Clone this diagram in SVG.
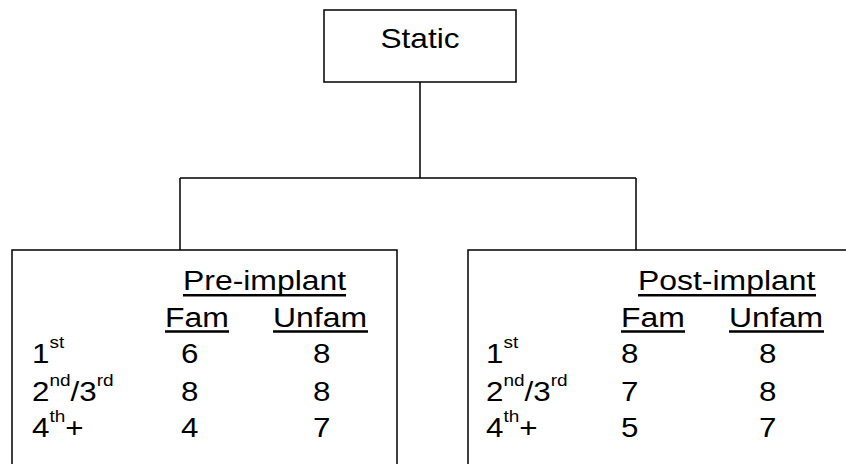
<svg xmlns="http://www.w3.org/2000/svg" width="846" height="464" viewBox="0 0 846 464">
<style>
.box{fill:#fff;stroke:#000;stroke-width:1.5}
.con{fill:none;stroke:#000;stroke-width:1.5}
.ul{fill:none;stroke:#000;stroke-width:2.6}
text{font-family:"Liberation Sans",Arial,sans-serif;font-size:28px;fill:#000}
.sup{font-size:17px}
</style>
<rect width="846" height="464" fill="#fff"/>
<g id="connectors">
<path class="con" d="M420 82V178M180 178H636M180 178V250M636 178V250"/>
</g>
<g id="static">
<rect class="box" x="324" y="10" width="192" height="72"/>
<text transform="translate(420,48) scale(1.13,1)" text-anchor="middle">Static</text>
</g>
<g id="pre-implant">
<rect class="box" x="12" y="250" width="385" height="230"/>
<text transform="translate(183,290) scale(1.14,1)">Pre-implant</text>
<text transform="translate(165,326.5) scale(1.14,1)">Fam</text>
<text transform="translate(273,326.5) scale(1.14,1)">Unfam</text>
<path class="ul" d="M183 295.2H346M165 331.5H229M273 331.5H368"/>
<text transform="translate(32,363) scale(1.12,1)">1<tspan class="sup" dy="-15">st</tspan></text>
<text transform="translate(32,400.5) scale(1.12,1)">2<tspan class="sup" dy="-15">nd</tspan><tspan dy="15">/3</tspan><tspan class="sup" dy="-15">rd</tspan></text>
<text transform="translate(32,437) scale(1.12,1)">4<tspan class="sup" dy="-15">th</tspan><tspan dy="15">+</tspan></text>
<text transform="translate(181,363) scale(1.12,1)">6</text>
<text transform="translate(313,363) scale(1.12,1)">8</text>
<text transform="translate(181,400.5) scale(1.12,1)">8</text>
<text transform="translate(313,400.5) scale(1.12,1)">8</text>
<text transform="translate(181,437) scale(1.12,1)">4</text>
<text transform="translate(313,437) scale(1.12,1)">7</text>
</g>
<g id="post-implant">
<rect class="box" x="468" y="250" width="400" height="230"/>
<text transform="translate(638,290) scale(1.14,1)">Post-implant</text>
<text transform="translate(621,326.5) scale(1.14,1)">Fam</text>
<text transform="translate(729,326.5) scale(1.14,1)">Unfam</text>
<path class="ul" d="M638 295.2H816M621 331.5H685M729 331.5H824"/>
<text transform="translate(486,363) scale(1.12,1)">1<tspan class="sup" dy="-15">st</tspan></text>
<text transform="translate(486,400.5) scale(1.12,1)">2<tspan class="sup" dy="-15">nd</tspan><tspan dy="15">/3</tspan><tspan class="sup" dy="-15">rd</tspan></text>
<text transform="translate(486,437) scale(1.12,1)">4<tspan class="sup" dy="-15">th</tspan><tspan dy="15">+</tspan></text>
<text transform="translate(621,363) scale(1.12,1)">8</text>
<text transform="translate(759,363) scale(1.12,1)">8</text>
<text transform="translate(621,400.5) scale(1.12,1)">7</text>
<text transform="translate(759,400.5) scale(1.12,1)">8</text>
<text transform="translate(621,437) scale(1.12,1)">5</text>
<text transform="translate(759,437) scale(1.12,1)">7</text>
</g>
</svg>
